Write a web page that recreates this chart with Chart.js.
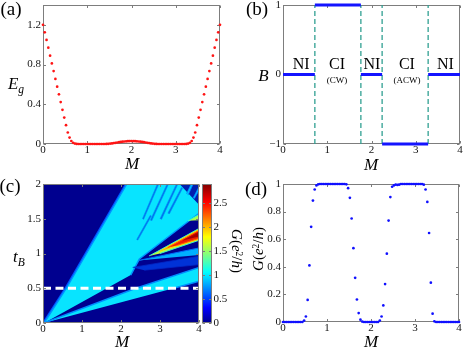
<!DOCTYPE html>
<html>
<head>
<meta charset="utf-8">
<title>Band gap, topological phases and conductance</title>
<script src="https://cdn.jsdelivr.net/npm/chart.js@4.4.1/dist/chart.umd.min.js"></script>
<style>
html,body{margin:0;padding:0;background:#ffffff;}
#fig{position:relative;width:463px;height:348px;overflow:hidden;font-family:'Liberation Serif','DejaVu Serif',serif;color:#000;}
#fig canvas{position:absolute;left:0;top:0;}
.lb{position:absolute;transform:translate(-50%,-50%);line-height:1;white-space:nowrap;}
.it{font-style:italic;}
.sub{font-size:0.68em;position:relative;top:0.32em;}
.sup{font-size:0.62em;position:relative;top:-0.45em;}
.rotL{transform:translate(-50%,-50%) rotate(-90deg);}
.rotR{transform:translate(-50%,-50%) rotate(90deg);}
</style>
</head>
<body>
<div id="fig">
<canvas id="cA" width="463" height="348"></canvas>
<canvas id="cB" width="463" height="348"></canvas>
<canvas id="cC" width="463" height="348"></canvas>
<canvas id="cBar" width="463" height="348"></canvas>
<canvas id="cD" width="463" height="348"></canvas>

<div class="lb" style="left:11px;top:7.5px;font-size:19px">(a)</div>
<div class="lb" style="left:257px;top:7.5px;font-size:19px">(b)</div>
<div class="lb" style="left:10px;top:185px;font-size:19px">(c)</div>
<div class="lb" style="left:256px;top:187.5px;font-size:19px">(d)</div>

<div class="lb it" style="left:16px;top:83px;font-size:17px">E<span class="sub">g</span></div>
<div class="lb it" style="left:132px;top:163px;font-size:17px">M</div>
<div class="lb it" style="left:263.5px;top:75px;font-size:17px">B</div>
<div class="lb it" style="left:371px;top:164px;font-size:17px">M</div>
<div class="lb it" style="left:19px;top:256px;font-size:17px">t<span class="sub">B</span></div>
<div class="lb it" style="left:122px;top:341px;font-size:17px">M</div>
<div class="lb it" style="left:371px;top:341px;font-size:17px">M</div>
<div class="lb rotR" style="left:235.5px;top:251px;font-size:15px"><i>G</i>(<i>e</i><span class="sup">2</span>/<i>h</i>)</div>
<div class="lb rotL" style="left:258px;top:249px;font-size:15px"><i>G</i>(<i>e</i><span class="sup">2</span>/<i>h</i>)</div>
</div>

<script>
// ---------------- DATA ----------------
// mass parameter grid shared by panels (a) and (d)
const massM = [0,0.04,0.08,0.12,0.16,0.2,0.24,0.28,0.32,0.36,0.4,0.44,0.48,0.52,0.56,0.6,0.64,0.68,0.72,0.76,
  0.8,0.84,0.88,0.92,0.96,1,1.04,1.08,1.12,1.16,1.2,1.24,1.28,1.32,1.36,1.4,1.44,1.48,1.52,1.56,
  1.6,1.64,1.68,1.72,1.76,1.8,1.84,1.88,1.92,1.96,2,2.04,2.08,2.12,2.16,2.2,2.24,2.28,2.32,2.36,
  2.4,2.44,2.48,2.52,2.56,2.6,2.64,2.68,2.72,2.76,2.8,2.84,2.88,2.92,2.96,3,3.04,3.08,3.12,3.16,
  3.2,3.24,3.28,3.32,3.36,3.4,3.44,3.48,3.52,3.56,3.6,3.64,3.68,3.72,3.76,3.8,3.84,3.88,3.92,3.96,4];

// (a) energy gap E_g
const gapEg = [1.200,1.125,1.048,0.970,0.890,0.812,0.735,0.655,0.577,0.500,0.422,0.344,0.266,0.190,0.116,0.065,0.030,0.012,0.004,0.001,
  0,0,0,0,0,0,0,0,0,0,0,0,0,0,0,0,
  0.001,0.002,0.004,0.006,0.009,0.012,0.015,0.018,0.021,0.023,0.025,0.027,0.028,0.029,0.029,
  0.029,0.028,0.027,0.025,0.023,0.021,0.018,0.015,0.012,0.009,0.006,0.004,0.002,0.001,
  0,0,0,0,0,0,0,0,0,0,0,0,0,0,0,0,
  0.001,0.004,0.012,0.030,0.065,0.116,0.190,0.266,0.344,0.422,0.500,0.577,0.655,0.735,0.812,0.890,0.970,1.048,1.125,1.200];

// (d) conductance G at t_B = 0.5
const condG = [0,0,0,0,0,0,0,0,0,0,0,0,
  0.01,0.04,0.16,0.41,0.69,0.88,0.96,0.99,0.998,
  1,1,1,1,1,1,1,1,1,1,1,1,1,1,1,
  0.998,0.97,0.90,0.75,0.535,0.32,0.163,0.065,0.017,0.003,
  0,0,0,0,0,0,0,0,0,
  0.01,0.04,0.12,0.275,0.495,0.735,0.905,0.98,0.99,
  0.995,0.993,0.995,
  1,1,1,1,1,1,1,1,1,1,1,1,1,
  0.995,0.96,0.87,0.645,0.285,0.06,0.005,
  0,0,0,0,0,0,0,0,0,0,0,0,0,0];

// (b) phase diagram
const phaseEdges = [0, 0.72, 1.76, 2.24, 3.28, 4];
const phaseB = [0, 1, 0, -1, 0];
const phaseNames = ['NI', 'CI', 'NI', 'CI', 'NI'];
const phaseSubs = ['', '(CW)', '', '(ACW)', ''];
const phaseNameM = [0.41, 1.22, 2.01, 2.80, 3.67];
const phaseNameB = 0.14;
const phaseSubB = -0.09;

// tick values / labels
const ticksM = [0, 1, 2, 3, 4];
const labelsM = ['0', '1', '2', '3', '4'];
const ticksEg = [0, 0.4, 0.8, 1.2];
const labelsEg = ['0', '0.4', '0.8', '1.2'];
const ticksB = [-1, 0, 1];
const labelsB = ['\u22121', '0', '1'];
const ticksTB = [0, 0.5, 1, 1.5, 2];
const labelsTB = ['0', '0.5', '1', '1.5', '2'];
const ticksG = [0, 0.2, 0.4, 0.6, 0.8, 1];
const labelsG = ['0', '0.2', '0.4', '0.6', '0.8', '1'];
const ticksCbar = [0, 0.5, 1, 1.5, 2, 2.5];
const labelsCbar = ['0', '0.5', '1', '1.5', '2', '2.5'];
const cbarMax = 2.9;

// (c) conductance map G(M, t_B): regions given as [M, t_B] outlines
const cutTB = 0.5;
const wedgeUpperEdge = [[0.03,0],[0.6,0.5],[2.15,2]];
const wedgeUpper = [[0.03,0],[0.6,0.5],[2.15,2],[4,2],[4,1.58],[2.47,0.92],[2.25,0.69]];
const wedgeLower = [[0.02,0],[2.38,0.5],[4,0.8],[4,0.6],[3.35,0.5]];
const cornerDark = [[3.5,2],[4,2],[4,1.7]];
const darkStreaks = [
  [[2.55,1.5],[2.93,2.0],[2.97,2.0],[2.58,1.49]],
  [[2.75,1.48],[3.18,2.0],[3.22,2.0],[2.79,1.47]],
  [[3.0,1.5],[3.42,2.0],[3.46,2.0],[3.04,1.49]],
  [[2.4,1.2],[2.75,1.55],[2.78,1.54],[2.43,1.19]],
  [[3.2,1.58],[3.55,1.95],[3.58,1.94],[3.24,1.57]]
];
const cyanStreaks = [
  [[3.68,1.86],[3.8,2.0],[3.85,2.0],[3.72,1.84]],
  [[3.85,1.8],[4,1.96],[4,1.91],[3.88,1.79]]
];
const haloBelow = [[2.3,0.8],[4,0.96],[4,0.84],[2.6,0.76]];
const armLower = [[2.45,0.9],[4,1.08],[4,0.98]];
const spotHigh = [[3.72,1.47],[4,1.56],[4,1.48]];
const ridgeOuter = [[2.72,0.965],[3.0,1.05],[4,1.36],[4,1.19],[3.0,1.0]];
const ridgeMid = [[2.98,1.03],[4,1.345],[4,1.205],[3.2,1.07]];
const ridgeInner = [[3.2,1.085],[4,1.33],[4,1.22],[3.45,1.12]];
const ridgeCore = [[3.6,1.19],[4,1.31],[4,1.245]];

// ---------------- HELPERS ----------------
const FONT = "'Liberation Serif', 'DejaVu Serif', serif";
const tickFont = {family: FONT, size: 11};
const xy = (xs, ys) => xs.map((x, i) => ({x: x, y: ys[i]}));
const poly = (p) => p.map(([x, y]) => ({x: x, y: y}));

function linScale(min, max, vals, labels, axis, size, pad, extra) {
  return Object.assign({
    type: 'linear', min: min, max: max,
    grid: {display: false, drawTicks: false},
    border: {display: false},
    ticks: {font: tickFont, color: '#141414', padding: pad, autoSkip: false, maxRotation: 0, minRotation: 0,
      callback: (v, i) => labels[i]},
    afterBuildTicks: (s) => { s.ticks = vals.map(v => ({value: v})); },
    afterFit: (s) => {
      if (axis === 'x') { s.height = size; s.paddingLeft = 0; s.paddingRight = 0; }
      else { s.width = size; s.paddingTop = 0; s.paddingBottom = 0; }
    }
  }, extra || {});
}

function drawFrame(chart, o) {
  const {ctx, chartArea: a} = chart;
  const L = Math.round(a.left) + 0.5, R = Math.round(a.right) - 0.5;
  const T = Math.round(a.top) + 0.5, B = Math.round(a.bottom) - 0.5;
  const len = 2.5;
  ctx.save();
  ctx.strokeStyle = o.color || '#7d7d7d';
  ctx.lineWidth = 1;
  ctx.strokeRect(L, T, R - L, B - T);
  ctx.beginPath();
  const xs = chart.scales.x, ys = chart.scales.y;
  if (xs && xs.options.display !== false) {
    xs.ticks.forEach(t => {
      const x = Math.round(xs.getPixelForValue(t.value)) + 0.5;
      ctx.moveTo(x, B); ctx.lineTo(x, B - len);
      ctx.moveTo(x, T); ctx.lineTo(x, T + len);
    });
  }
  ys.ticks.forEach(t => {
    const y = Math.round(ys.getPixelForValue(t.value)) + 0.5;
    ctx.moveTo(L, y); ctx.lineTo(L + len, y);
    ctx.moveTo(R, y); ctx.lineTo(R - len, y);
  });
  ctx.stroke();
  ctx.restore();
}
const framePlugin = {
  id: 'frame',
  beforeDatasetsDraw(chart, args, o) { if (o.under) drawFrame(chart, o); },
  afterDatasetsDraw(chart, args, o) { if (!o.under) drawFrame(chart, o); }
};
const areaBgPlugin = {
  id: 'areaBg',
  beforeDatasetsDraw(chart, args, o) {
    const {ctx, chartArea: a} = chart;
    ctx.save(); ctx.fillStyle = o.color; ctx.fillRect(a.left, a.top, a.right - a.left, a.bottom - a.top); ctx.restore();
  }
};
const phaseTextPlugin = {
  id: 'phaseText',
  afterDatasetsDraw(chart) {
    const {ctx} = chart; const xs = chart.scales.x, ys = chart.scales.y;
    ctx.save();
    ctx.fillStyle = '#000'; ctx.textAlign = 'center'; ctx.textBaseline = 'middle';
    phaseNames.forEach((t, i) => {
      const x = xs.getPixelForValue(phaseNameM[i]);
      ctx.font = '16px ' + FONT;
      ctx.fillText(t, x, ys.getPixelForValue(phaseNameB));
      if (phaseSubs[i]) {
        ctx.font = '9px ' + FONT;
        ctx.fillText(phaseSubs[i], x, ys.getPixelForValue(phaseSubB));
      }
    });
    ctx.restore();
  }
};

const common = (pad, extraPlugins) => ({
  responsive: false, animation: false, devicePixelRatio: 1, events: [],
  layout: {padding: pad},
  plugins: Object.assign({legend: {display: false}, tooltip: {enabled: false}}, extraPlugins)
});

// ---------------- (a) ----------------
new Chart(document.getElementById('cA'), {
  type: 'scatter',
  data: {datasets: [{data: xy(massM, gapEg), pointRadius: 1.35, pointBorderWidth: 0,
    pointBackgroundColor: '#ff1414', showLine: false, clip: 4}]},
  options: Object.assign(common({left: 3, right: 243, top: 5, bottom: 190}, {frame: {under: true}}), {
    scales: {
      x: linScale(0, 4, ticksM, labelsM, 'x', 14, 0),
      y: linScale(0, 1.4, ticksEg, labelsEg, 'y', 40, 2)
    }
  }),
  plugins: [framePlugin]
});

// ---------------- (b) ----------------
const bSets = [];
for (let i = 0; i < phaseB.length; i++) {
  bSets.push({data: [{x: phaseEdges[i], y: phaseB[i]}, {x: phaseEdges[i + 1], y: phaseB[i]}],
    showLine: true, borderColor: '#1414ff', borderWidth: 3, pointRadius: 0, clip: 4, order: 1});
}
for (let i = 1; i < phaseEdges.length - 1; i++) {
  bSets.push({data: [{x: phaseEdges[i], y: -1}, {x: phaseEdges[i], y: 1}],
    showLine: true, borderColor: 'rgb(48,160,146)', borderWidth: 1.3, borderDash: [5, 3], pointRadius: 0, order: 2});
}
new Chart(document.getElementById('cB'), {
  type: 'scatter',
  data: {datasets: bSets},
  options: Object.assign(common({left: 243, right: 3, top: 5, bottom: 190}, {frame: {under: true}}), {
    scales: {
      x: linScale(0, 4, ticksM, labelsM, 'x', 14, 0),
      y: linScale(-1, 1, ticksB, labelsB, 'y', 40, 2)
    }
  }),
  plugins: [framePlugin, phaseTextPlugin]
});

// ---------------- (c) ----------------
const NAVY = '#00008f';
const CYAN = 'rgb(8,228,255)';
const cLayers = [];   // bottom -> top
function addPoly(pts, fillCol, edgeCol, edgeW) {
  cLayers.push({data: poly(pts), showLine: true, fill: 'shape', backgroundColor: fillCol,
    borderColor: edgeCol || fillCol, borderWidth: edgeW || 0.8, pointRadius: 0});
}
function addLine(pts, col, w, dash) {
  cLayers.push({data: poly(pts), showLine: true, fill: false, borderColor: col, borderWidth: w,
    borderDash: dash || [], pointRadius: 0});
}
addLine(wedgeUpperEdge, 'rgb(0,80,255)', 3.5);
addPoly(wedgeUpper, CYAN, 'rgb(0,150,255)', 1.4);
addPoly(cornerDark, 'rgb(0,30,175)', 'rgb(0,90,230)', 2);
darkStreaks.forEach(p => addPoly(p, 'rgb(0,110,235)', 'rgb(0,150,250)', 0.6));
cyanStreaks.forEach(p => addPoly(p, 'rgb(0,200,255)', 'rgb(0,130,255)', 0.8));
addPoly(wedgeLower, CYAN, 'rgb(0,140,255)', 1.4);
addPoly(haloBelow, 'rgb(0,50,215)', 'rgb(0,40,200)', 0.8);
addPoly(armLower, 'rgb(0,175,255)', 'rgb(0,110,250)', 1);
addPoly(spotHigh, 'rgb(170,255,80)', 'rgb(60,255,190)', 1);
addPoly(ridgeOuter, 'rgb(190,255,60)', 'rgb(60,240,200)', 1);
addPoly(ridgeMid, 'rgb(255,160,0)', 'rgb(255,210,0)', 1);
addPoly(ridgeInner, 'rgb(240,30,0)', 'rgb(255,90,0)', 1);
addPoly(ridgeCore, 'rgb(165,0,0)', 'rgb(200,0,0)', 1);
addLine([[0, cutTB], [4, cutTB]], '#ffffff', 3, [8, 4.5]);
cLayers.forEach((d, k) => { d.order = cLayers.length - k; });

new Chart(document.getElementById('cC'), {
  type: 'scatter',
  data: {datasets: cLayers},
  options: Object.assign(common({left: 3, right: 264, top: 184, bottom: 11}, {frame: {under: false}, areaBg: {color: NAVY}}), {
    scales: {
      x: linScale(0, 4, ticksM, labelsM, 'x', 14, 0),
      y: linScale(0, 2, ticksTB, labelsTB, 'y', 40, 2)
    }
  }),
  plugins: [areaBgPlugin, framePlugin]
});

// colour bar
const jetStops = [[0, '#00008f'], [0.11, '#0000ff'], [0.365, '#00ffff'], [0.62, '#ffff00'], [0.87, '#ff0000'], [1, '#800000']];
new Chart(document.getElementById('cBar'), {
  type: 'bar',
  data: {labels: ['G'], datasets: [{data: [[0, cbarMax]], barPercentage: 1, categoryPercentage: 1, borderWidth: 0,
    backgroundColor: (c) => {
      const a = c.chart.chartArea;
      if (!a) return NAVY;
      const g = c.chart.ctx.createLinearGradient(0, a.bottom, 0, a.top);
      jetStops.forEach(([p, col]) => g.addColorStop(p, col));
      return g;
    }}]},
  options: Object.assign(common({left: 202, right: 231, top: 184, bottom: 25}, {frame: {under: false}}), {
    scales: {
      x: {display: false},
      y: linScale(0, cbarMax, ticksCbar, labelsCbar, 'y', 20, 1.5, {position: 'right'})
    }
  }),
  plugins: [framePlugin]
});

// ---------------- (d) ----------------
new Chart(document.getElementById('cD'), {
  type: 'scatter',
  data: {datasets: [{data: xy(massM, condG), pointRadius: 1.35, pointBorderWidth: 0,
    pointBackgroundColor: '#1010ff', showLine: false, clip: 4}]},
  options: Object.assign(common({left: 243, right: 3, top: 184, bottom: 12}, {frame: {under: true}}), {
    scales: {
      x: linScale(0, 4, ticksM, labelsM, 'x', 14, 0),
      y: linScale(0, 1, ticksG, labelsG, 'y', 40, 2)
    }
  }),
  plugins: [framePlugin]
});
</script>
</body>
</html>
